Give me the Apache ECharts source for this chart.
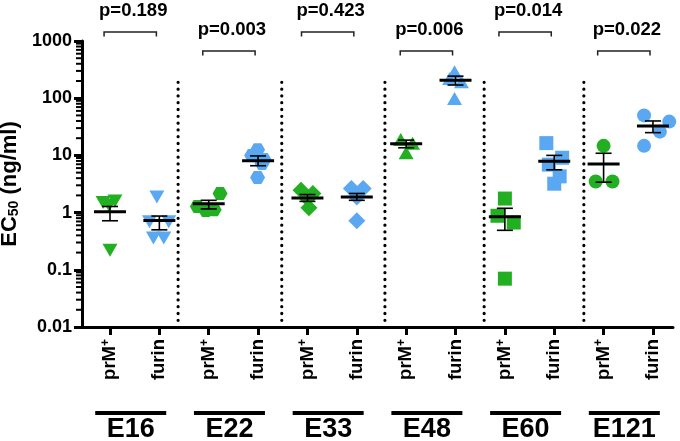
<!DOCTYPE html>
<html><head><meta charset="utf-8">
<script src="https://cdn.jsdelivr.net/npm/echarts@6/dist/echarts.min.js"></script>
<style>html,body{margin:0;padding:0;background:#fff}#c{width:680px;height:441px}</style>
</head><body><div id="c"></div>
<script>
// ---------- data ----------
const groups = ['E16', 'E22', 'E33', 'E48', 'E60', 'E121'];
const conditions = ['prM+', 'furin'];
const pValues = ['0.189', '0.003', '0.423', '0.006', '0.014', '0.022'];
const yTicks = [0.01, 0.1, 1, 10, 100, 1000];

const prmValues = [
  [1.5, 1.6, 1.35, 0.22],
  [2.16, 1.28, 1.09, 1.12],
  [2.47, 2.15, 1.76, 1.21],
  [19, 16.3, 11.1],
  [1.76, 0.88, 0.67, 0.07],
  [14.7, 3.5, 3.5]
];
const prmJitter = [
  [-0.14, 0.1, -0.02, 0],
  [0.23, -0.23, -0.06, 0.11],
  [-0.13, 0.11, 0, 0.03],
  [-0.11, 0.13, 0],
  [0, -0.15, 0.18, 0],
  [0, -0.16, 0.18]
];
const furinValues = [
  [1.88, 0.69, 0.69, 0.36, 0.36],
  [12.5, 10, 8.5, 7.2, 4.1],
  [2.65, 2.65, 1.88, 0.72],
  [290, 222, 193, 99],
  [16.4, 9.1, 6.9, 4.3, 3.2],
  [50, 39, 26, 14.7]
];
const furinJitter = [
  [-0.05, -0.2, 0.19, -0.12, 0.09],
  [-0.01, -0.13, 0.12, 0.08, -0.01],
  [-0.11, 0.13, 0, 0],
  [-0.02, -0.12, 0.12, -0.02],
  [-0.16, 0.16, -0.11, 0.11, 0],
  [-0.18, 0.33, 0.14, -0.18]
];
const prmMean    = [1.04, 1.43, 1.80, 16, 0.85, 7.1];
const prmErrHigh = [1.28, 1.64, 2.07, 18.5, 1.19, 10.9];
const prmErrLow  = [0.72, 1.16, 1.57, 13.6, 0.49, 3.4];
const furinMean    = [0.73, 8.1, 1.88, 207, 7.9, 32.5];
const furinErrHigh = [0.87, 9.8, 2.16, 243, 10, 40];
const furinErrLow  = [0.50, 6.6, 1.64, 170, 5.6, 25];

// ---------- styling ----------
const GREEN = '#22B022';
const BLUE = '#5AA8F2';
const FONT = '"Liberation Sans", Arial, Helvetica, sans-serif';
const HEX = 'path://M3,0 L9,0 L12,5 L9,10 L3,10 L0,5 Z';
const groupSymbols = ['triangle', HEX, 'diamond', 'triangle', 'rect', 'circle'];
const groupRotate = [180, 0, 0, 0, 0, 0];
const groupSize = [[15, 13], [15, 13], [17, 17], [15, 13], [14, 14], [14, 14]];
const separatorsX = [1.38, 3.48, 5.57, 7.58, 9.6];
const separatorTop = 190;
const X_MIN = -0.567, X_MAX = 11.406;
const minorSteps = [2, 3, 4, 5, 6, 7, 8, 9];

function pointsFor(values, jitter, condIdx) {
  const out = [];
  values.forEach((arr, g) => {
    arr.forEach((v, k) => {
      out.push({
        value: [2 * g + condIdx + jitter[g][k], v],
        symbol: groupSymbols[g],
        symbolRotate: groupRotate[g],
        symbolSize: groupSize[g]
      });
    });
  });
  return out;
}
const statsData = [];
groups.forEach((g, i) => {
  statsData.push([2 * i, prmMean[i], prmErrLow[i], prmErrHigh[i]]);
  statsData.push([2 * i + 1, furinMean[i], furinErrLow[i], furinErrHigh[i]]);
});
const minorTickData = [];
yTicks.slice(0, -1).forEach(d => minorSteps.forEach(k => minorTickData.push([X_MIN, d * k])));
const catTicks = groups.flatMap((g, i) => [2 * i, 2 * i + 1]);

const chart = echarts.init(document.getElementById('c'));
chart.setOption({
  animation: false,
  textStyle: { fontFamily: FONT },
  grid: { left: 82, right: 7, top: 41, bottom: 114, containLabel: false, outerBoundsMode: 'none' },
  xAxis: [{
    type: 'value', min: X_MIN, max: X_MAX, position: 'bottom', offset: 0,
    splitLine: { show: false },
    axisLine: { show: true, onZero: false, lineStyle: { color: '#000', width: 3 } },
    axisTick: { show: true, customValues: catTicks, length: 8, lineStyle: { color: '#000', width: 3 } },
    axisLabel: {
      customValues: catTicks,
      rotate: 90, margin: 12, color: '#000',
      formatter: v => {
        const c = conditions[Math.round(v) % 2];
        return c.endsWith('+') ? '{b|' + c.slice(0, -1) + '}{sup|+}' : '{b|' + c + '}';
      },
      rich: {
        b: { fontSize: 18.5, fontWeight: 'bold', fontFamily: FONT, color: '#000' },
        sup: { fontSize: 12, fontWeight: 'bold', fontFamily: FONT, color: '#000', padding: [0, 0, 9, 0] }
      }
    }
  }, {
    type: 'value', min: X_MIN, max: X_MAX, position: 'bottom', offset: 0,
    splitLine: { show: false },
    axisLine: { show: false }, axisTick: { show: false },
    axisLabel: {
      customValues: groups.map((g, i) => 2 * i + 0.42),
      margin: 84, color: '#000',
      formatter: v => '{line|}\n{g|' + groups[Math.round((v - 0.42) / 2)] + '}',
      rich: {
        line: { width: 71, height: 4, lineHeight: 4, fontSize: 4, backgroundColor: '#000' },
        g: { fontSize: 27, fontWeight: 'bold', fontFamily: FONT, color: '#000', lineHeight: 30 }
      }
    }
  }],
  yAxis: {
    type: 'log', logBase: 10, min: yTicks[0], max: yTicks[yTicks.length - 1],
    name: '{b|EC}{sub|50}{b| (ng/ml)}', nameLocation: 'middle', nameGap: 56, nameRotate: 90,
    nameTextStyle: {
      rich: {
        b: { fontSize: 22, fontWeight: 'bold', fontFamily: FONT, color: '#000', lineHeight: 28, verticalAlign: 'bottom' },
        sub: { fontSize: 14, fontWeight: 'bold', fontFamily: FONT, color: '#000', lineHeight: 14, verticalAlign: 'bottom' }
      }
    },
    splitLine: { show: false },
    axisLine: { show: true, onZero: false, lineStyle: { color: '#000', width: 3 } },
    axisTick: { show: true, length: 8, lineStyle: { color: '#000', width: 3 } },
    axisLabel: {
      margin: 10, color: '#000', fontSize: 18, fontWeight: 'bold', fontFamily: FONT,
      formatter: v => String(Number(Number(v).toPrecision(3)))
    }
  },
  series: [{
    type: 'scatter', name: 'prM+', xAxisIndex: 0, z: 2,
    itemStyle: { color: GREEN, opacity: 1 },
    data: pointsFor(prmValues, prmJitter, 0)
  }, {
    type: 'scatter', name: 'furin', xAxisIndex: 0, z: 2,
    itemStyle: { color: BLUE, opacity: 1 },
    data: pointsFor(furinValues, furinJitter, 1)
  }, {
    type: 'custom', name: 'stats', xAxisIndex: 0, z: 5, clip: false,
    data: statsData,
    renderItem: (params, api) => {
      const x = api.value(0);
      const pm = api.coord([x, api.value(1)]);
      const pl = api.coord([x, api.value(2)]);
      const ph = api.coord([x, api.value(3)]);
      const st = { stroke: '#000', lineWidth: 1.6 };
      return { type: 'group', children: [
        { type: 'line', shape: { x1: pl[0], y1: pl[1], x2: ph[0], y2: ph[1] }, style: st },
        { type: 'line', shape: { x1: pl[0] - 8, y1: pl[1], x2: pl[0] + 8, y2: pl[1] }, style: st },
        { type: 'line', shape: { x1: ph[0] - 8, y1: ph[1], x2: ph[0] + 8, y2: ph[1] }, style: st },
        { type: 'line', shape: { x1: pm[0] - 16, y1: pm[1], x2: pm[0] + 16, y2: pm[1] }, style: { stroke: '#000', lineWidth: 3 } }
      ] };
    }
  }, {
    type: 'custom', name: 'minorTicks', xAxisIndex: 0, z: 4, clip: false,
    data: minorTickData,
    renderItem: (params, api) => {
      const p = api.coord([api.value(0), api.value(1)]);
      return { type: 'line', shape: { x1: p[0] - 6, y1: p[1], x2: p[0], y2: p[1] },
        style: { stroke: '#000', lineWidth: 2 } };
    }
  }, {
    type: 'custom', name: 'separators', xAxisIndex: 0, z: 1, clip: false,
    data: separatorsX.map(x => [x, separatorTop, yTicks[0]]),
    renderItem: (params, api) => {
      const a = api.coord([api.value(0), api.value(1)]);
      const b = api.coord([api.value(0), api.value(2)]);
      return { type: 'line', shape: { x1: a[0], y1: a[1], x2: b[0], y2: b[1] - 4 },
        style: { stroke: '#000', lineWidth: 3.2, lineDash: [0.1, 6.7], lineCap: 'round' } };
    }
  }, {
    type: 'custom', name: 'pvalues', xAxisIndex: 0, z: 3, clip: false,
    data: groups.map((g, i) => [i, yTicks[yTicks.length - 1]]),
    renderItem: (params, api) => {
      const g = api.value(0);
      const top = api.coord([0, api.value(1)])[1];
      const y = g % 2 === 0 ? top - 9 : top + 10;
      const x1 = api.coord([2 * g - 0.12, 1])[0];
      const x2 = api.coord([2 * g + 0.94, 1])[0];
      return { type: 'group', children: [
        { type: 'polyline', shape: { points: [[x1, y + 4.5], [x1, y], [x2, y], [x2, y + 4.5]] },
          style: { stroke: '#222', lineWidth: 1.5, fill: null } },
        { type: 'text', x: (x1 + x2) / 2 + 3, y: y - 21,
          style: { text: 'p=' + pValues[g], fill: '#000', font: 'bold 18.5px ' + FONT, align: 'center', verticalAlign: 'middle' } }
      ] };
    }
  }]
});
</script></body></html>
